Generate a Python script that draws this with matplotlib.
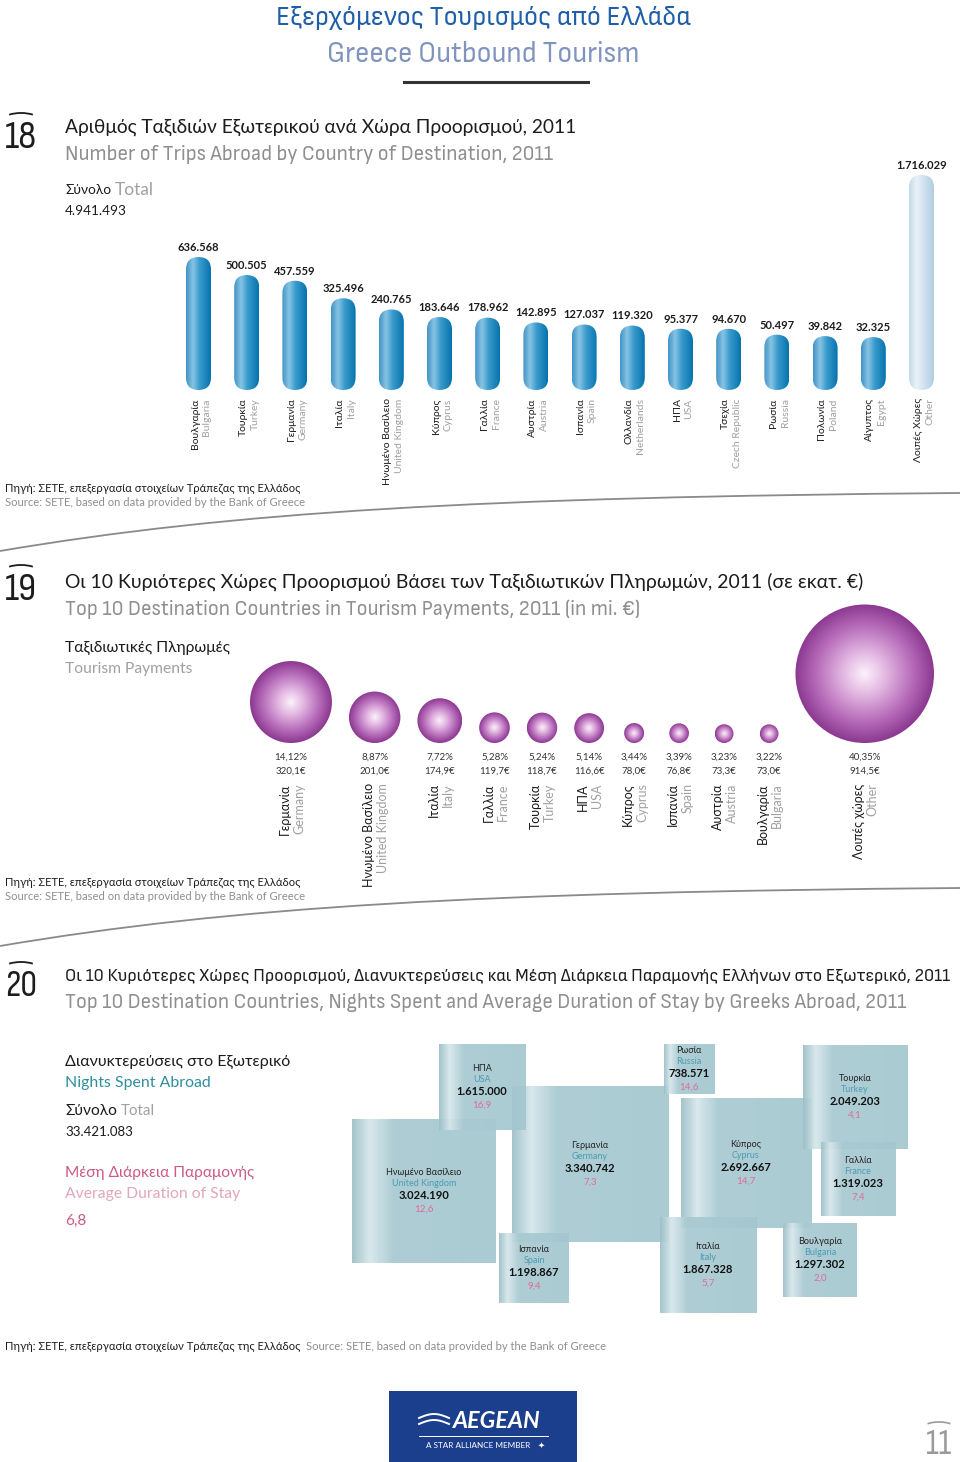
""" plot.py """

import numpy as np
import matplotlib
matplotlib.use("Agg")
import matplotlib.pyplot as plt
from matplotlib.patches import FancyBboxPatch, Circle, Rectangle, Arc, PathPatch
from matplotlib.path import Path
from matplotlib.colors import LinearSegmentedColormap

###################################################
# Data
###################################################

trip_gr = ['Βουλγαρία', 'Τουρκία', 'Γερμανία', 'Ιταλία', 'Ηνωμένο Βασίλειο', 'Κύπρος',
           'Γαλλία', 'Αυστρία', 'Ισπανία', 'Ολλανδία', 'ΗΠΑ', 'Τσεχία', 'Ρωσία',
           'Πολωνία', 'Αίγυπτος', 'Λοιπές Χώρες']
trip_en = ['Bulgaria', 'Turkey', 'Germany', 'Italy', 'United Kingdom', 'Cyprus',
           'France', 'Austria', 'Spain', 'Netherlands', 'USA', 'Czech Republic', 'Russia',
           'Poland', 'Egypt', 'Other']
trips = [636568, 500505, 457559, 325496, 240765, 183646, 178962, 142895, 127037,
         119320, 95377, 94670, 50497, 39842, 32325, 1716029]
trips_total = 4941493

pay_gr = ['Γερμανία', 'Ηνωμένο Βασίλειο', 'Ιταλία', 'Γαλλία', 'Τουρκία', 'ΗΠΑ',
          'Κύπρος', 'Ισπανία', 'Αυστρία', 'Βουλγαρία', 'Λοιπές χώρες']
pay_en = ['Germany', 'United Kingdom', 'Italy', 'France', 'Turkey', 'USA',
          'Cyprus', 'Spain', 'Austria', 'Bulgaria', 'Other']
payments = [320.1, 201.0, 174.9, 119.7, 118.7, 116.6, 78.0, 76.8, 73.3, 73.0, 914.5]
pay_share = [14.12, 8.87, 7.72, 5.28, 5.24, 5.14, 3.44, 3.39, 3.23, 3.22, 40.35]

night_gr = ['Ηνωμένο Βασίλειο', 'Γερμανία', 'ΗΠΑ', 'Ισπανία', 'Ρωσία', 'Κύπρος',
            'Ιταλία', 'Τουρκία', 'Γαλλία', 'Βουλγαρία']
night_en = ['United Kingdom', 'Germany', 'USA', 'Spain', 'Russia', 'Cyprus',
            'Italy', 'Turkey', 'France', 'Bulgaria']
nights = [3024190, 3340742, 1615000, 1198867, 738571, 2692667, 1867328, 2049203,
          1319023, 1297302]
stay = [12.6, 7.3, 16.9, 9.4, 14.6, 14.7, 5.7, 4.1, 7.4, 2.0]
nights_total = 33421083
stay_avg = 6.8

# where each square sits in the collage (pixel centres)
square_pos = [(424, 1191), (590, 1164), (482, 1087), (534, 1268), (689, 1069),
              (746, 1163), (708, 1265), (855, 1097), (858, 1179), (820, 1260)]

###################################################
# Figure setup
###################################################

W, H = 960, 1462
plt.rcParams['font.family'] = ['Lato', 'Noto Sans', 'DejaVu Sans']
CONDENSED = ['Sofia Sans Semi Condensed', 'Sofia Sans Condensed', 'Lato', 'Noto Sans',
             'DejaVu Sans']
NUMBERS = ['Sofia Sans Condensed', 'Lato', 'DejaVu Sans']

BLACK = '#1c1c1c'
GREY = '#8f8f8f'
LGREY = '#a0a0a0'

bar_cmap = LinearSegmentedColormap.from_list(
    'bar', [(0, '#3f93c6'), (0.28, '#88c4e4'), (0.55, '#3a9bcd'), (1, '#0573ad')])
other_cmap = LinearSegmentedColormap.from_list(
    'other', [(0, '#c4d9e9'), (0.3, '#e9f2f8'), (1, '#b1cde2')])
bubble_cmap = LinearSegmentedColormap.from_list(
    'bubble', [(0, '#fcf2fc'), (0.3, '#e4b9e3'), (0.7, '#b66bb9'), (1, '#8c3991')])
square_cmap = LinearSegmentedColormap.from_list(
    'square', [(0, '#9dc0c8'), (0.12, '#d6e7eb'), (0.28, '#a9cad2'), (1, '#a4c7cf')])

fig = plt.figure(figsize=(W / 100, H / 100), dpi=100)
fig.patch.set_facecolor('white')
renderer = fig.canvas.get_renderer()

bg = fig.add_axes([0, 0, 1, 1])
bg.set_xlim(0, W)
bg.set_ylim(H, 0)
bg.axis('off')


def px_axes(x0, y0, x1, y1):
    """Axes placed by pixel box (top-left origin)."""
    ax = fig.add_axes([x0 / W, 1 - y1 / H, (x1 - x0) / W, (y1 - y0) / H])
    ax.axis('off')
    return ax


def txt(x, y, s, size=10, width=None, **kw):
    """Text on the page; optionally scaled to a target pixel width."""
    kw.setdefault('va', 'center')
    t = bg.text(x, y, s, fontsize=size, **kw)
    if width is not None:
        w = t.get_window_extent(renderer=renderer).width
        t.set_fontsize(size * width / w)
    return t


def right_of(t, gap=4):
    return t.get_window_extent(renderer=renderer).x1 + gap


def fmt_int(v):
    return f"{v:,}".replace(',', '.')


def fmt_dec(v, n=1):
    return f"{v:.{n}f}".replace('.', ',')


def section_number(y, s):
    txt(21, y, s, size=28, width=32, ha='center', family=NUMBERS, color=BLACK)
    bg.add_patch(Arc((21, y - 18), 34, 12, theta1=200, theta2=340, color=BLACK, lw=1.3))


def divider(y):
    verts = [(0, y + 57), (230, y + 18), (480, y + 3), (960, y - 1)]
    path = Path(verts, [Path.MOVETO, Path.CURVE4, Path.CURVE4, Path.CURVE4])
    bg.add_patch(PathPatch(path, fc='none', ec='#8a8a8a', lw=1.3))


grad = np.linspace(0, 1, 128).reshape(1, -1)

###################################################
# Page title
###################################################

txt(483, 18, 'Εξερχόμενος Τουρισμός από Ελλάδα', size=20, width=415, ha='center',
    family=CONDENSED, color='#1f5ea8')
txt(483, 55, 'Greece Outbound Tourism', size=20, width=313, ha='center',
    family=CONDENSED, color='#8094bf')
bg.plot([404, 588], [82, 82], color='#333333', lw=2.2)

###################################################
# 18. Number of trips
###################################################

section_number(137, '18')
txt(65, 127, 'Αριθμός Ταξιδιών Εξωτερικού ανά Χώρα Προορισμού, 2011', size=14,
    width=513, color=BLACK)
txt(65, 154, 'Number of Trips Abroad by Country of Destination, 2011', size=14,
    width=487, family=CONDENSED, color=GREY)
t = txt(65, 190, 'Σύνολο', size=11, width=46, color=BLACK)
txt(right_of(t), 190, 'Total', size=11, width=39, color=LGREY)
txt(65, 211, fmt_int(trips_total), size=11, width=62, color=BLACK)

ax1 = px_axes(174.4, 150, 945.6, 390)
floor_k, top_k = -367, 1444   # pill bases start below zero so small bars keep their shape
other_cap = 1256               # the "Other" bar is shortened in the source
ax1.set_xlim(-0.5, len(trips) - 0.5)
ax1.set_ylim(floor_k, top_k)
bb = ax1.get_window_extent(renderer)
ppx = bb.width / len(trips)
ppy = bb.height / (top_k - floor_k)
bar_w = 25 / ppx

trips_k = np.minimum(np.array(trips) / 1000, other_cap)
for i, v in enumerate(trips_k):
    cmap = other_cmap if trip_en[i] == 'Other' else bar_cmap
    x0 = i - bar_w / 2
    pill = FancyBboxPatch((x0, floor_k), bar_w, v - floor_k,
                          boxstyle=f"round,pad=0,rounding_size={bar_w / 2}",
                          mutation_aspect=ppx / ppy, fc='none', ec='none')
    ax1.add_patch(pill)
    im = ax1.imshow(grad, cmap=cmap, extent=(x0, x0 + bar_w, floor_k, v),
                    aspect='auto', interpolation='bicubic')
    im.set_clip_path(pill)
    ax1.annotate(fmt_int(trips[i]), (i, v), xytext=(0, 3), textcoords='offset points',
                 ha='center', va='bottom', fontsize=8, fontweight='bold', color=BLACK)
    ax1.annotate(trip_gr[i], (i, 0), xycoords=ax1.get_xaxis_transform(),
                 xytext=(-2.5, -6), textcoords='offset points', rotation=90,
                 ha='center', va='top', fontsize=7.5, color=BLACK, annotation_clip=False)
    ax1.annotate(trip_en[i], (i, 0), xycoords=ax1.get_xaxis_transform(),
                 xytext=(6, -6), textcoords='offset points', rotation=90,
                 ha='center', va='top', fontsize=7.5, color=LGREY, annotation_clip=False)
ax1.set_xlim(-0.5, len(trips) - 0.5)
ax1.set_ylim(floor_k, top_k)

txt(5, 488, 'Πηγή: ΣΕΤΕ, επεξεργασία στοιχείων Τράπεζας της Ελλάδος', size=7,
    width=294, color=BLACK)
txt(5, 502, 'Source: SETE, based on data provided by the Bank of Greece', size=7,
    width=300, color=GREY)
divider(494)

###################################################
# 19. Tourism payments
###################################################

section_number(589, '19')
txt(65, 582, 'Οι 10 Κυριότερες Χώρες Προορισμού Βάσει των Ταξιδιωτικών Πληρωμών, 2011 (σε εκατ. €)',
    size=14, width=798, color=BLACK)
txt(65, 609, 'Top 10 Destination Countries in Tourism Payments, 2011 (in mi. €)',
    size=14, width=575, family=CONDENSED, color=GREY)
txt(65, 648, 'Ταξιδιωτικές Πληρωμές', size=11, width=165, color=BLACK)
txt(65, 669, 'Tourism Payments', size=11, width=127, color=LGREY)

ax2 = px_axes(240, 600, 960, 743)
unit_px = 0.256                      # pixels per million euro of diameter
ax2.set_xlim(0, 720 / unit_px)
ax2.set_ylim(0, 143 / unit_px)
diam = np.array(payments, dtype=float)
diam[-1] = np.sqrt(payments[-1] * payments[0])   # "Other" drawn area-scaled against Germany
gap, min_step = 17 / unit_px, 45 / unit_px

yy, xx = np.mgrid[-1:1:200j, -1:1:200j]
rr = np.sqrt(xx ** 2 + yy ** 2)
centres = []
for i, d in enumerate(diam):
    if i == 0:
        c = 10 / unit_px + d / 2
    else:
        c = centres[-1] + max((diam[i - 1] + d) / 2 + gap, min_step)
    centres.append(c)
    r = d / 2
    ball = Circle((c, r), r, fc='none', ec='none')
    ax2.add_patch(ball)
    im = ax2.imshow(rr, cmap=bubble_cmap, vmin=0, vmax=1, extent=(c - r, c + r, 0, d),
                    aspect='auto', interpolation='bicubic')
    im.set_clip_path(ball)
    ax2.annotate(fmt_dec(pay_share[i], 2) + '%', (c, 0), xytext=(0, -10),
                 textcoords='offset points', ha='center', va='center', fontsize=7,
                 color='#333333', annotation_clip=False)
    ax2.annotate(fmt_dec(payments[i]) + '€', (c, 0), xytext=(0, -20),
                 textcoords='offset points', ha='center', va='center', fontsize=7,
                 color='#333333', annotation_clip=False)
    ax2.annotate(pay_gr[i], (c, 0), xytext=(-4.3, -29), textcoords='offset points',
                 rotation=90, ha='center', va='top', fontsize=9, color=BLACK,
                 annotation_clip=False)
    ax2.annotate(pay_en[i], (c, 0), xytext=(5.8, -29), textcoords='offset points',
                 rotation=90, ha='center', va='top', fontsize=9, color=LGREY,
                 annotation_clip=False)
ax2.set_xlim(0, 720 / unit_px)
ax2.set_ylim(0, 143 / unit_px)

txt(5, 882, 'Πηγή: ΣΕΤΕ, επεξεργασία στοιχείων Τράπεζας της Ελλάδος', size=7,
    width=294, color=BLACK)
txt(5, 897, 'Source: SETE, based on data provided by the Bank of Greece', size=7,
    width=300, color=GREY)
divider(889)

###################################################
# 20. Nights spent abroad
###################################################

section_number(986, '20')
txt(65, 976, 'Οι 10 Κυριότερες Χώρες Προορισμού, Διανυκτερεύσεις και Μέση Διάρκεια '
    'Παραμονής Ελλήνων στο Εξωτερικό, 2011', size=14, width=886, family=CONDENSED,
    color=BLACK)
txt(65, 1003, 'Top 10 Destination Countries, Nights Spent and Average Duration of Stay '
    'by Greeks Abroad, 2011', size=14, width=838, family=CONDENSED, color=GREY)

txt(65, 1062, 'Διανυκτερεύσεις στο Εξωτερικό', size=11, width=225, color=BLACK)
txt(65, 1083, 'Nights Spent Abroad', size=11, width=145, color='#2f8f9d')
t = txt(65, 1111, 'Σύνολο', size=11, width=52, color=BLACK)
txt(right_of(t), 1111, 'Total', size=11, width=34, color=LGREY)
txt(65, 1132, fmt_int(nights_total), size=11, width=68, color=BLACK)
txt(65, 1173, 'Μέση Διάρκεια Παραμονής', size=11, width=189, color='#cc5a84')
txt(65, 1194, 'Average Duration of Stay', size=11, width=175, color='#e3a6bd')
txt(65, 1221, fmt_dec(stay_avg), size=11, color='#cc5a84')

ax3 = px_axes(330, 1030, 930, 1320)
ax3.set_xlim(330, 930)
ax3.set_ylim(1320, 1030)
sq_base, sq_per_m = 20, 41          # side length in px = base + per-million * nights
for i, n in enumerate(nights):
    side = sq_base + sq_per_m * n / 1e6
    cx, cy = square_pos[i]
    box = Rectangle((cx - side / 2, cy - side / 2), side, side, fc='none', ec='none')
    ax3.add_patch(box)
    im = ax3.imshow(grad, cmap=square_cmap, extent=(cx - side / 2, cx + side / 2,
                    cy + side / 2, cy - side / 2), aspect='auto', alpha=0.93,
                    interpolation='bicubic', zorder=i + 1)
    im.set_clip_path(box)
    kw = dict(textcoords='offset points', ha='center', va='center', zorder=50)
    ax3.annotate(night_gr[i], (cx, cy), xytext=(0, 13.3), fontsize=6.5, color='#222222', **kw)
    ax3.annotate(night_en[i], (cx, cy), xytext=(0, 5.4), fontsize=6.5, color='#4b9cb4', **kw)
    ax3.annotate(fmt_int(n), (cx, cy), xytext=(0, -3.2), fontsize=8, fontweight='bold',
                 color='#111111', **kw)
    ax3.annotate(fmt_dec(stay[i]), (cx, cy), xytext=(0, -13), fontsize=7,
                 color='#e06a9a', **kw)
ax3.set_xlim(330, 930)
ax3.set_ylim(1320, 1030)

txt(5, 1347, 'Πηγή: ΣΕΤΕ, επεξεργασία στοιχείων Τράπεζας της Ελλάδος', size=7,
    width=294, color=BLACK)
txt(306, 1347, 'Source: SETE, based on data provided by the Bank of Greece', size=7,
    width=300, color=GREY)

###################################################
# Footer: logo and page number
###################################################

bg.add_patch(Rectangle((389, 1391), 188, 71, fc='#1b3f8d', ec='none'))
txt(497, 1422, 'AEGEAN', size=16, width=88, ha='center', fontweight='bold',
    style='italic', color='white')
for dy in (0, 6):
    xs = np.linspace(419, 449, 30)
    bg.plot(xs, 1418 + dy - 4 * np.sin((xs - 419) / 30 * np.pi), color='white', lw=1.4)
bg.plot([419, 548], [1436, 1436], color='white', lw=0.7)
txt(478, 1445, 'A STAR ALLIANCE MEMBER', size=5, width=104, ha='center', color='white')
txt(541, 1445, '✦', size=6, ha='center', color='white', family=['DejaVu Sans'])

txt(939, 1461, '11', size=26, ha='center', va='bottom', family=NUMBERS, color='#9a9a9a')
bg.add_patch(Arc((939, 1428), 32, 12, theta1=200, theta2=340, color='#9a9a9a', lw=1.2))

fig.savefig('out.png', dpi=100, facecolor='white')
